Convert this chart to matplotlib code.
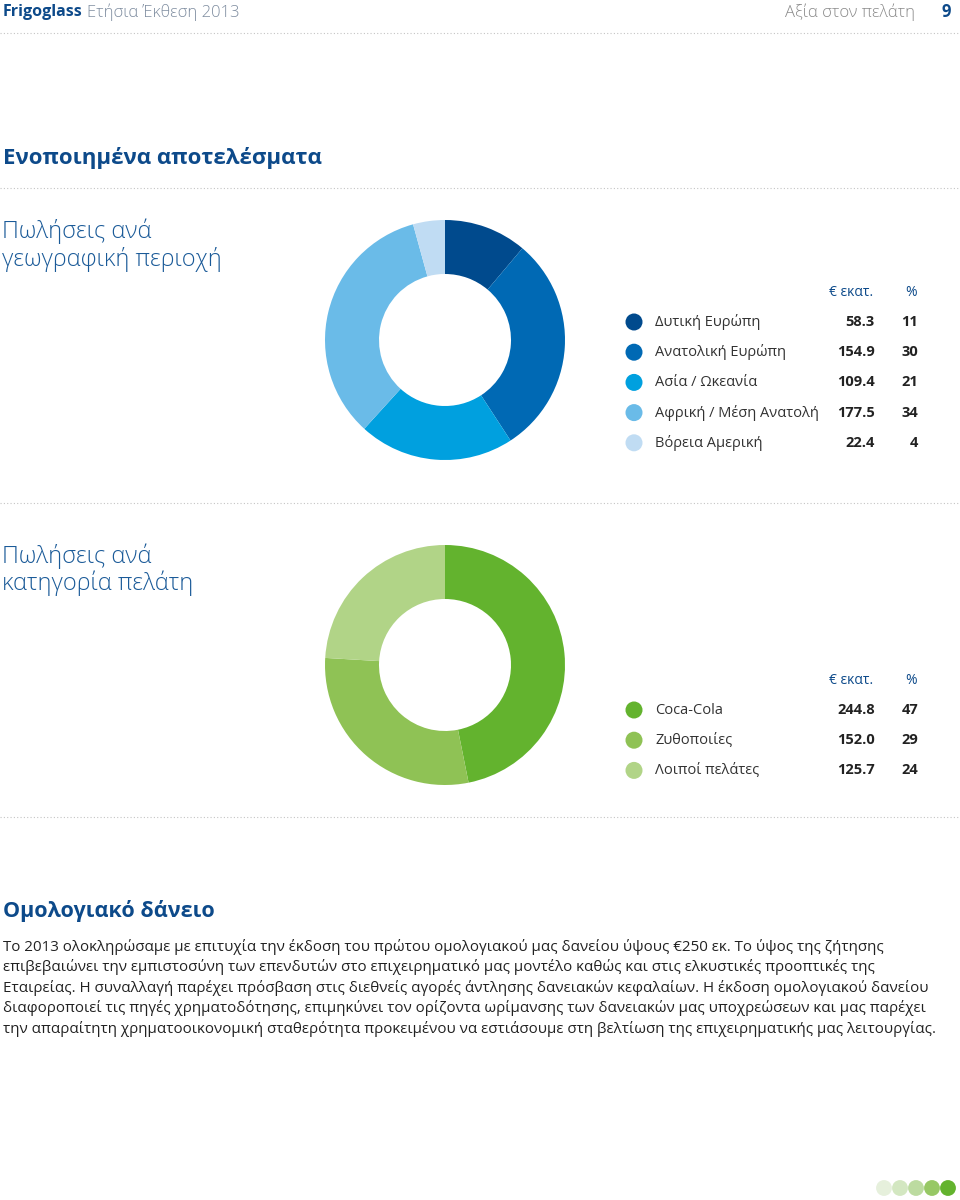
import matplotlib.pyplot as plt

# data
regions = ['Δυτική Ευρώπη', 'Ανατολική Ευρώπη', 'Ασία / Ωκεανία',
           'Αφρική / Μέση Ανατολή', 'Βόρεια Αμερική']
region_sales = [58.3, 154.9, 109.4, 177.5, 22.4]
region_pct = [11, 30, 21, 34, 4]
region_colors = ['#004a8d', '#0069b4', '#00a0df', '#6abbe8', '#c0dcf3']

customers = ['Coca-Cola', 'Ζυθοποιίες', 'Λοιποί πελάτες']
customer_sales = [244.8, 152.0, 125.7]
customer_pct = [47, 29, 24]
customer_colors = ['#63b32e', '#8fc255', '#b1d487']

body = [
    'Το 2013 ολοκληρώσαμε με επιτυχία την έκδοση του πρώτου ομολογιακού μας δανείου ύψους €250 εκ. Το ύψος της ζήτησης',
    'επιβεβαιώνει την εμπιστοσύνη των επενδυτών στο επιχειρηματικό μας μοντέλο καθώς και στις ελκυστικές προοπτικές της',
    'Εταιρείας. Η συναλλαγή παρέχει πρόσβαση στις διεθνείς αγορές άντλησης δανειακών κεφαλαίων. Η έκδοση ομολογιακού δανείου',
    'διαφοροποιεί τις πηγές χρηματοδότησης, επιμηκύνει τον ορίζοντα ωρίμανσης των δανειακών μας υποχρεώσεων και μας παρέχει',
    'την απαραίτητη χρηματοοικονομική σταθερότητα προκειμένου να εστιάσουμε στη βελτίωση της επιχειρηματικής μας λειτουργίας.',
]
page_dots = ['#e6f0dc', '#d3e7c1', '#bcdba0', '#97c865', '#63b32e']

W, H = 960, 1200
BLUE = '#0d4a8a'
OPEN = ['Open Sans', 'DejaVu Sans']

fig = plt.figure(figsize=(9.6, 12), dpi=100)
page = fig.add_axes([0, 0, 1, 1])
page.set_xlim(0, W)
page.set_ylim(H, 0)
page.axis('off')


def donut(cx, cy, r, vals, cols):
    ax = fig.add_axes([(cx - r) / W, 1 - (cy + r) / H, 2 * r / W, 2 * r / H])
    ax.pie(vals, colors=cols, startangle=90, counterclock=False, radius=1,
           wedgeprops=dict(width=0.45, edgecolor='none'))
    ax.set_xlim(-1, 1)
    ax.set_ylim(-1, 1)
    ax.set_aspect('equal')
    ax.axis('off')


def dotted(y):
    page.plot([0, W], [y, y], ls=(0, (1, 2)), color='#c4c4c4', lw=0.8)


def legend(y0, names, sales, pcts, cols):
    page.text(873, y0, '€ εκατ.', ha='right', va='center', fontsize=10,
              color=BLUE, family=OPEN)
    page.text(917, y0, '%', ha='right', va='center', fontsize=10,
              color=BLUE, family=OPEN)
    for i, (n, s, p, c) in enumerate(zip(names, sales, pcts, cols)):
        y = y0 + 30 + 30.2 * i
        page.scatter(634, y, s=150, color=c, edgecolors='none')
        page.text(655, y, n, ha='left', va='center', fontsize=10.5,
                  color='#333333', family=OPEN)
        page.text(875, y, f'{s:.1f}', ha='right', va='center', fontsize=10.5,
                  color='#222222', family=OPEN, fontweight='bold')
        page.text(918, y, f'{p}', ha='right', va='center', fontsize=10.5,
                  color='#222222', family=OPEN, fontweight='bold')


# header
page.text(3, 12, 'Frigoglass', ha='left', va='center', fontsize=11.5,
          color=BLUE, family=OPEN, fontweight='bold')
page.text(87, 12, 'Ετήσια Έκθεση 2013', ha='left', va='center', fontsize=12,
          color='#7f8da0', family=OPEN, fontweight='light')
page.text(915, 12, 'Αξία στον πελάτη', ha='right', va='center', fontsize=12,
          color='#8a8a8a', family=OPEN, fontweight='light')
page.text(951, 12, '9', ha='right', va='center', fontsize=12,
          color=BLUE, family=OPEN, fontweight='bold')
dotted(33)

page.text(3, 158, 'Ενοποιημένα αποτελέσματα', ha='left', va='center',
          fontsize=16, color=BLUE, family=OPEN, fontweight='bold')
dotted(188)

page.text(2, 231, 'Πωλήσεις ανά', ha='left', va='center', fontsize=17,
          color='#1a5a98', family=OPEN, fontweight='light')
page.text(2, 260, 'γεωγραφική περιοχή', ha='left', va='center', fontsize=17,
          color='#1a5a98', family=OPEN, fontweight='light')
donut(445, 340, 120, region_sales, region_colors)
legend(292, regions, region_sales, region_pct, region_colors)
dotted(503)

page.text(2, 556, 'Πωλήσεις ανά', ha='left', va='center', fontsize=17,
          color='#1a5a98', family=OPEN, fontweight='light')
page.text(2, 583, 'κατηγορία πελάτη', ha='left', va='center', fontsize=17,
          color='#1a5a98', family=OPEN, fontweight='light')
donut(445, 665, 120, customer_sales, customer_colors)
legend(680, customers, customer_sales, customer_pct, customer_colors)
dotted(817)

page.text(3, 911, 'Ομολογιακό δάνειο', ha='left', va='center', fontsize=15.5,
          color=BLUE, family=OPEN, fontweight='bold')
for i, line in enumerate(body):
    page.text(3, 947 + 20.4 * i, line, ha='left', va='center', fontsize=10.9,
              color='#222222', family=OPEN)

for i, c in enumerate(page_dots):
    page.scatter(884 + 16 * i, 1188, s=130, color=c, edgecolors='none')

fig.savefig('out.png', dpi=100)
